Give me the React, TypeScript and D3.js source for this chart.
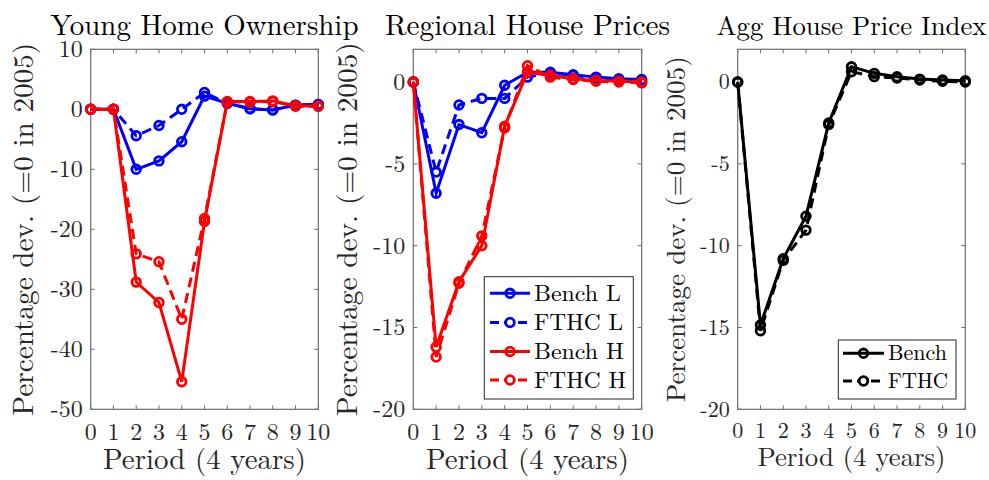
import React from "react";
import * as d3 from "d3";

const periods = [0, 1, 2, 3, 4, 5, 6, 7, 8, 9, 10];
const xTicks = [0, 1, 2, 3, 4, 5, 6, 7, 8, 9, 10];

// Panel 1: Young Home Ownership
const ownBenchL = [0, 0, -10.0, -8.6, -5.4, 2.2, 1.0, 0.1, -0.1, 0.7, 0.8];
const ownFthcL = [0, 0, -4.4, -2.7, 0.0, 2.8, 1.0, 0.1, -0.1, 0.7, 0.8];
const ownBenchH = [0, 0, -28.8, -32.2, -45.4, -18.7, 1.3, 1.3, 1.4, 0.6, 0.5];
const ownFthcH = [0, 0, -24.1, -25.4, -35.0, -18.2, 1.2, 1.2, 1.3, 0.5, 0.5];
const ownYTicks = [-50, -40, -30, -20, -10, 0, 10];

// Panel 2: Regional House Prices
const regBenchL = [0, -6.8, -2.6, -3.1, -0.2, 0.6, 0.6, 0.45, 0.3, 0.2, 0.15];
const regFthcL = [0, -5.5, -1.4, -1.0, -1.0, 0.3, 0.55, 0.4, 0.25, 0.15, 0.1];
const regBenchH = [0, -16.2, -12.2, -10.0, -2.7, 0.6, 0.4, 0.2, 0.1, 0.05, 0.0];
const regFthcH = [0, -16.8, -12.3, -9.4, -2.8, 1.0, 0.3, 0.15, 0.05, 0.0, -0.05];
const priceYTicks = [-20, -15, -10, -5, 0];

// Panel 3: Agg House Price Index
const aggBench = [0, -14.85, -10.8, -8.2, -2.5, 0.93, 0.53, 0.32, 0.18, 0.12, 0.08];
const aggFthc = [0, -15.2, -10.9, -9.05, -2.6, 0.63, 0.33, 0.25, 0.12, 0.05, 0.0];

const FONT =
  '"Latin Modern Roman", "CMU Serif", "DejaVu Serif", "Liberation Serif", "Noto Serif", "Tinos", "Times New Roman", "Times", "FreeSerif", "Nimbus Roman", "Nimbus Roman No9 L", "TeX Gyre Termes", "Noto Serif CJK SC", "Noto Serif CJK JP", "Source Han Serif", "Georgia", serif';
const BLUE = "#0000ff";
const RED = "#ff0000";
const BLACK = "#000000";
const DASH = "10 6";

type Series = { name: string; values: number[]; color: string; dashed: boolean };

type PanelCfg = {
  left: number;
  right: number;
  top: number;
  bottom: number;
  yDomain: [number, number];
  yTicks: number[];
  title: string;
  titleLen: number;
  titleSize: number;
  tickSize: number;
  labelSize: number;
  xlabelLen: number;
  ylabelX: number;
  ylabelLen: number;
  tickBaseline: number;
  xlabelBaseline: number;
  series: Series[];
  legend?: { x0: number; x1: number; y0: number; y1: number; rows: number[]; lineX0: number; lineX1: number; textX: number; fontSize: number; textLens: number[] };
};

const panels: PanelCfg[] = [
  {
    left: 90.7, right: 318.3, top: 49.3, bottom: 409.3,
    yDomain: [-50, 10], yTicks: ownYTicks,
    title: "Young Home Ownership", titleLen: 308, titleSize: 28.5,
    tickSize: 24, labelSize: 28.5, xlabelLen: 203, ylabelX: 33, ylabelLen: 373,
    tickBaseline: 440, xlabelBaseline: 469,
    series: [
      { name: "Bench L", values: ownBenchL, color: BLUE, dashed: false },
      { name: "FTHC L", values: ownFthcL, color: BLUE, dashed: true },
      { name: "Bench H", values: ownBenchH, color: RED, dashed: false },
      { name: "FTHC H", values: ownFthcH, color: RED, dashed: true },
    ],
  },
  {
    left: 413.3, right: 641.7, top: 49.3, bottom: 409.3,
    yDomain: [-20, 2], yTicks: priceYTicks,
    title: "Regional House Prices", titleLen: 285, titleSize: 28.5,
    tickSize: 24, labelSize: 28.5, xlabelLen: 203, ylabelX: 357, ylabelLen: 374,
    tickBaseline: 440, xlabelBaseline: 469,
    series: [
      { name: "Bench L", values: regBenchL, color: BLUE, dashed: false },
      { name: "FTHC L", values: regFthcL, color: BLUE, dashed: true },
      { name: "Bench H", values: regBenchH, color: RED, dashed: false },
      { name: "FTHC H", values: regFthcH, color: RED, dashed: true },
    ],
    legend: { x0: 484.3, x1: 633.3, y0: 276.7, y1: 399, rows: [293.3, 322.5, 351.5, 380], lineX0: 490, lineX1: 530, textX: 534, fontSize: 23.5, textLens: [87, 89, 90, 92] },
  },
  {
    left: 737.7, right: 965.3, top: 49.3, bottom: 409.3,
    yDomain: [-20, 2], yTicks: priceYTicks,
    title: "Agg House Price Index", titleLen: 270, titleSize: 26.5,
    tickSize: 22, labelSize: 26.5, xlabelLen: 188, ylabelX: 685, ylabelLen: 346,
    tickBaseline: 437.5, xlabelBaseline: 466,
    series: [
      { name: "Bench", values: aggBench, color: BLACK, dashed: false },
      { name: "FTHC", values: aggFthc, color: BLACK, dashed: true },
    ],
    legend: { x0: 838.3, x1: 956, y0: 340, y1: 399, rows: [353.3, 381], lineX0: 843, lineX1: 884, textX: 888, fontSize: 21.5, textLens: [59, 60] },
  },
];

const AXIS = "#6e6e6e";
const TICKTXT = "#262626";
const TICKLEN = 4;
const LW = 3;
const MR = 4.3;
const MW = 2.8;

function Panel({ cfg }: { cfg: PanelCfg }) {
  const x = d3.scaleLinear().domain([0, 10]).range([cfg.left, cfg.right]);
  const y = d3.scaleLinear().domain(cfg.yDomain).range([cfg.bottom, cfg.top]);
  const line = d3
    .line<number>()
    .x((_, i) => x(periods[i]))
    .y((d) => y(d));
  const midX = (cfg.left + cfg.right) / 2;
  const midY = (cfg.top + cfg.bottom) / 2;
  const txt = { fontFamily: FONT } as React.CSSProperties;
  return (
    <g>
      <text
        x={midX}
        y={35}
        textAnchor="middle"
        style={txt}
        fontSize={cfg.titleSize}
        fill="#000"
        textLength={cfg.titleLen}
        lengthAdjust="spacingAndGlyphs"
      >
        {cfg.title}
      </text>
      <text
        transform={`translate(${cfg.ylabelX},${midY}) rotate(-90)`}
        textAnchor="middle"
        style={txt}
        fontSize={cfg.labelSize}
        fill={TICKTXT}
        textLength={cfg.ylabelLen}
        lengthAdjust="spacingAndGlyphs"
      >
        Percentage dev. (=0 in 2005)
      </text>
      <text
        x={midX}
        y={cfg.xlabelBaseline}
        textAnchor="middle"
        style={txt}
        fontSize={cfg.labelSize}
        fill={TICKTXT}
        textLength={cfg.xlabelLen}
        lengthAdjust="spacingAndGlyphs"
      >
        Period (4 years)
      </text>
      {xTicks.map((t) => (
        <g key={"xt" + t}>
          <line x1={x(t)} x2={x(t)} y1={cfg.bottom} y2={cfg.bottom - TICKLEN} stroke={AXIS} strokeWidth={1} />
          <line x1={x(t)} x2={x(t)} y1={cfg.top} y2={cfg.top + TICKLEN} stroke={AXIS} strokeWidth={1} />
          <text
            x={x(t)}
            y={cfg.tickBaseline}
            textAnchor="middle"
            style={txt}
            fontSize={cfg.tickSize}
            fill={TICKTXT}
          >
            {t}
          </text>
        </g>
      ))}
      {cfg.yTicks.map((t) => (
        <g key={"yt" + t}>
          <line x1={cfg.left} x2={cfg.left + TICKLEN} y1={y(t)} y2={y(t)} stroke={AXIS} strokeWidth={1} />
          <line x1={cfg.right} x2={cfg.right - TICKLEN} y1={y(t)} y2={y(t)} stroke={AXIS} strokeWidth={1} />
          <text
            x={cfg.left - 8}
            y={y(t) + cfg.tickSize * 0.33}
            textAnchor="end"
            style={txt}
            fontSize={cfg.tickSize}
            fill={TICKTXT}
          >
            {t}
          </text>
        </g>
      ))}
      <rect
        x={cfg.left}
        y={cfg.top}
        width={cfg.right - cfg.left}
        height={cfg.bottom - cfg.top}
        fill="none"
        stroke={AXIS}
        strokeWidth={1.2}
      />
      {cfg.series.map((s, si) => (
        <g key={"s" + si}>
          <path
            d={line(s.values) || ""}
            fill="none"
            stroke={s.color}
            strokeWidth={LW}
            strokeDasharray={s.dashed ? DASH : undefined}
            strokeLinejoin="miter"
          />
          {s.values.map((v, i) => (
            <circle
              key={i}
              cx={x(periods[i])}
              cy={y(v)}
              r={MR}
              fill="none"
              stroke={s.color}
              strokeWidth={MW}
            />
          ))}
        </g>
      ))}
      {cfg.legend && (
        <g>
          <rect
            x={cfg.legend.x0}
            y={cfg.legend.y0}
            width={cfg.legend.x1 - cfg.legend.x0}
            height={cfg.legend.y1 - cfg.legend.y0}
            fill="#fff"
            stroke="#262626"
            strokeWidth={1}
          />
          {cfg.series.map((s, si) => {
            const lg = cfg.legend!;
            const ry = lg.rows[si];
            const mx = (lg.lineX0 + lg.lineX1) / 2;
            return (
              <g key={"lg" + si}>
                <line
                  x1={lg.lineX0}
                  x2={lg.lineX1}
                  y1={ry}
                  y2={ry}
                  stroke={s.color}
                  strokeWidth={LW}
                  strokeDasharray={s.dashed ? "9 5" : undefined}
                />
                <circle cx={mx} cy={ry} r={MR} fill={s.dashed ? "#fff" : "none"} stroke={s.color} strokeWidth={MW} />
                <text
                  x={lg.textX}
                  y={ry + lg.fontSize * 0.33}
                  style={txt}
                  fontSize={lg.fontSize}
                  fill="#000"
                  textLength={lg.textLens[si]}
                  lengthAdjust="spacingAndGlyphs"
                >
                  {s.name}
                </text>
              </g>
            );
          })}
        </g>
      )}
    </g>
  );
}

export default function App() {
  return (
    <svg
      width={989}
      height={480}
      viewBox="0 0 989 480"
      style={{ position: "absolute", left: 0, top: 0, background: "#fff" }}
    >
      <rect x={0} y={0} width={989} height={480} fill="#fff" />
      {panels.map((p, i) => (
        <Panel key={i} cfg={p} />
      ))}
    </svg>
  );
}
